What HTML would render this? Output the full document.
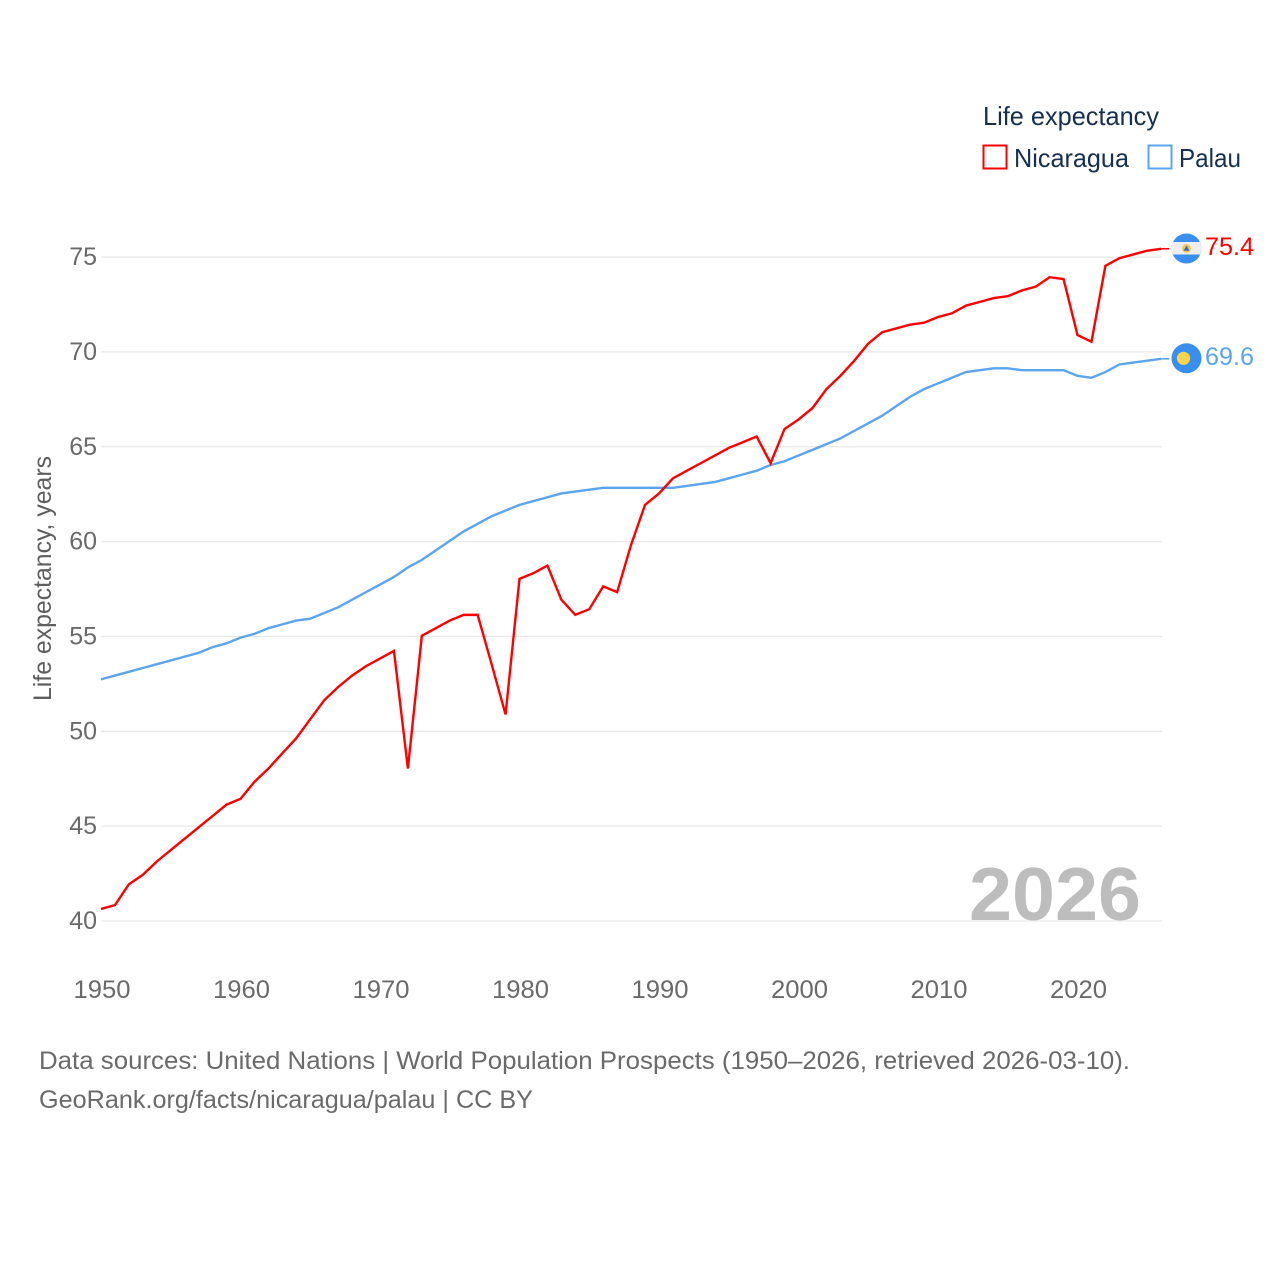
<!DOCTYPE html>
<html lang="en">
<head>
<meta charset="utf-8">
<title>Life expectancy: Nicaragua and Palau</title>
<style>
html,body{margin:0;padding:0;background:#fff;}
svg{display:block;}
text{font-family:"Liberation Sans",sans-serif;}
</style>
</head>
<body>
<svg id="chart" width="1280" height="1280" viewBox="0 0 1280 1280" xmlns="http://www.w3.org/2000/svg">
  <defs>
    <clipPath id="flag-clip-nic"><circle cx="1186.5" cy="248.5" r="15"></circle></clipPath>
  </defs>
  <rect x="0" y="0" width="1280" height="1280" fill="#ffffff"></rect>

  <g id="grid"></g>
  <g id="yticks"></g>
  <g id="xticks"></g>

  <text transform="translate(51,701) rotate(-90)" font-size="25" fill="#5e5e5e" textLength="245" lengthAdjust="spacingAndGlyphs">Life expectancy, years</text>

  <text x="969" y="920" font-size="75" font-weight="700" fill="#bdbdbd" textLength="172" lengthAdjust="spacingAndGlyphs">2026</text>

  <g id="series" transform="translate(0,-0.7)"></g>

  <g>
    <text x="983" y="125" font-size="26" fill="#15304f" textLength="176" lengthAdjust="spacingAndGlyphs">Life expectancy</text>
    <g>
      <rect x="983.5" y="145.5" width="23" height="23" fill="#ffffff" stroke="#ff0000" stroke-width="2"></rect>
      <text x="1014" y="167" font-size="26" fill="#15304f" textLength="115" lengthAdjust="spacingAndGlyphs">Nicaragua</text>
    </g>
    <g>
      <rect x="1148.5" y="145.5" width="23" height="23" fill="#ffffff" stroke="#5ba4f0" stroke-width="2"></rect>
      <text x="1179" y="167" font-size="26" fill="#15304f" textLength="62" lengthAdjust="spacingAndGlyphs">Palau</text>
    </g>
  </g>

  <g>
    <g clip-path="url(#flag-clip-nic)">
      <rect x="1171" y="233" width="31" height="31" fill="#3a8fee"></rect>
      <rect x="1171" y="242" width="31" height="12.5" fill="#eeeeee"></rect>
    </g>
    <circle cx="1186.5" cy="248.5" r="4.4" fill="#f3c44f"></circle>
    <polygon points="1186.5,245.5 1189.5,250.8 1183.5,250.8" fill="#3b6fb5"></polygon>
  </g>
  <g>
    <circle cx="1186.5" cy="358.3" r="15" fill="#3a8fee"></circle>
    <circle cx="1183.5" cy="358.3" r="6.6" fill="#fdd447"></circle>
  </g>

  <text x="1205" y="255" font-size="25" fill="#ff0000" textLength="49" lengthAdjust="spacingAndGlyphs">75.4</text>
  <text x="1205" y="365" font-size="25" fill="#5ba4f0" textLength="49" lengthAdjust="spacingAndGlyphs">69.6</text>

  <text x="39" y="1069" font-size="25" fill="#6a6a6a" textLength="1091" lengthAdjust="spacingAndGlyphs">Data sources: United Nations | World Population Prospects (1950–2026, retrieved 2026-03-10).</text>
  <text x="39" y="1108" font-size="25" fill="#6a6a6a" textLength="494" lengthAdjust="spacingAndGlyphs">GeoRank.org/facts/nicaragua/palau | CC BY</text>
</svg>

<script>
const years = [1950,1951,1952,1953,1954,1955,1956,1957,1958,1959,1960,1961,1962,1963,1964,1965,1966,1967,1968,1969,1970,1971,1972,1973,1974,1975,1976,1977,1978,1979,1980,1981,1982,1983,1984,1985,1986,1987,1988,1989,1990,1991,1992,1993,1994,1995,1996,1997,1998,1999,2000,2001,2002,2003,2004,2005,2006,2007,2008,2009,2010,2011,2012,2013,2014,2015,2016,2017,2018,2019,2020,2021,2022,2023,2024,2025,2026];
const nicaragua = [40.6,40.8,41.9,42.4,43.1,43.7,44.3,44.9,45.5,46.1,46.4,47.3,48.0,48.8,49.6,50.6,51.6,52.3,52.9,53.4,53.8,54.2,48.0,55.0,55.4,55.8,56.1,56.1,53.5,50.85,58.0,58.3,58.7,56.9,56.1,56.4,57.6,57.3,59.8,61.9,62.5,63.3,63.7,64.1,64.5,64.9,65.2,65.5,64.1,65.9,66.4,67.0,68.0,68.7,69.5,70.4,71.0,71.2,71.4,71.5,71.8,72.0,72.4,72.6,72.8,72.9,73.2,73.4,73.9,73.8,70.85,70.5,74.5,74.9,75.1,75.3,75.4];
const palau = [52.7,52.9,53.1,53.3,53.5,53.7,53.9,54.1,54.4,54.6,54.9,55.1,55.4,55.6,55.8,55.9,56.2,56.5,56.9,57.3,57.7,58.1,58.6,59.0,59.5,60.0,60.5,60.9,61.3,61.6,61.9,62.1,62.3,62.5,62.6,62.7,62.8,62.8,62.8,62.8,62.8,62.8,62.9,63.0,63.1,63.3,63.5,63.7,64.0,64.2,64.5,64.8,65.1,65.4,65.8,66.2,66.6,67.1,67.6,68.0,68.3,68.6,68.9,69.0,69.1,69.1,69.0,69.0,69.0,69.0,68.7,68.6,68.9,69.3,69.4,69.5,69.6];
const yTickValues = [40,45,50,55,60,65,70,75];
const xTickValues = [1950,1960,1970,1980,1990,2000,2010,2020];

const SVG_NS = 'http://www.w3.org/2000/svg';
const xAxis = function (year) { return 101 + (year - 1950) * 13.95; };
const yAxis = function (value) { return 921 - (value - 40) * 18.97; };

const gridGroup = document.getElementById('grid');
const yTickGroup = document.getElementById('yticks');
const xTickGroup = document.getElementById('xticks');
const seriesGroup = document.getElementById('series');

yTickValues.forEach(function (tick) {
  const line = document.createElementNS(SVG_NS, 'line');
  
  
  line.setAttribute('x1', 101);
  line.setAttribute('x2', 1162);
  line.setAttribute('y1', yAxis(tick));
  line.setAttribute('y2', yAxis(tick));
  line.setAttribute('stroke', '#e9e9e9');
  line.setAttribute('stroke-width', '1.3');
  gridGroup.appendChild(line);

  const label = document.createElementNS(SVG_NS, 'text');
  
  
  label.setAttribute('x', 97);
  label.setAttribute('y', yAxis(tick) + 8);
  label.setAttribute('text-anchor', 'end');
  label.setAttribute('font-size', '25');
  label.setAttribute('fill', '#6a6a6a');
  label.textContent = tick;
  yTickGroup.appendChild(label);
});

xTickValues.forEach(function (tick) {
  const label = document.createElementNS(SVG_NS, 'text');
  
  
  label.setAttribute('x', xAxis(tick) + 1);
  label.setAttribute('y', 998);
  label.setAttribute('text-anchor', 'middle');
  label.setAttribute('font-size', '25');
  label.setAttribute('fill', '#6a6a6a');
  label.setAttribute('textLength', '57');
  label.setAttribute('lengthAdjust', 'spacingAndGlyphs');
  label.textContent = tick;
  xTickGroup.appendChild(label);
});

function buildPath(values) {
  return values.map(function (value, i) {
    return (i === 0 ? 'M' : 'L') + xAxis(years[i]).toFixed(2) + ' ' + yAxis(value).toFixed(2);
  }).join(' ');
}

const palauLine = document.createElementNS(SVG_NS, 'path');


palauLine.setAttribute('d', buildPath(palau));
palauLine.setAttribute('fill', 'none');
palauLine.setAttribute('stroke', '#5ba4f0');
palauLine.setAttribute('stroke-width', '2.4');
palauLine.setAttribute('stroke-linejoin', 'miter');
seriesGroup.appendChild(palauLine);

const nicaraguaLine = document.createElementNS(SVG_NS, 'path');


nicaraguaLine.setAttribute('d', buildPath(nicaragua));
nicaraguaLine.setAttribute('fill', 'none');
nicaraguaLine.setAttribute('stroke', '#ff0000');
nicaraguaLine.setAttribute('stroke-width', '2.4');
nicaraguaLine.setAttribute('stroke-linejoin', 'miter');
seriesGroup.appendChild(nicaraguaLine);

const palauConnector = document.createElementNS(SVG_NS, 'line');


palauConnector.setAttribute('x1', xAxis(years[years.length - 1]));
palauConnector.setAttribute('x2', xAxis(years[years.length - 1]) + 8);
palauConnector.setAttribute('y1', yAxis(palau[palau.length - 1]));
palauConnector.setAttribute('y2', yAxis(palau[palau.length - 1]));
palauConnector.setAttribute('stroke', '#5ba4f0');
palauConnector.setAttribute('stroke-width', '1.6');
seriesGroup.appendChild(palauConnector);

const nicaraguaConnector = document.createElementNS(SVG_NS, 'line');


nicaraguaConnector.setAttribute('x1', xAxis(years[years.length - 1]));
nicaraguaConnector.setAttribute('x2', xAxis(years[years.length - 1]) + 8);
nicaraguaConnector.setAttribute('y1', yAxis(nicaragua[nicaragua.length - 1]));
nicaraguaConnector.setAttribute('y2', yAxis(nicaragua[nicaragua.length - 1]));
nicaraguaConnector.setAttribute('stroke', '#ff0000');
nicaraguaConnector.setAttribute('stroke-width', '1.6');
seriesGroup.appendChild(nicaraguaConnector);
</script>
</body>
</html>
